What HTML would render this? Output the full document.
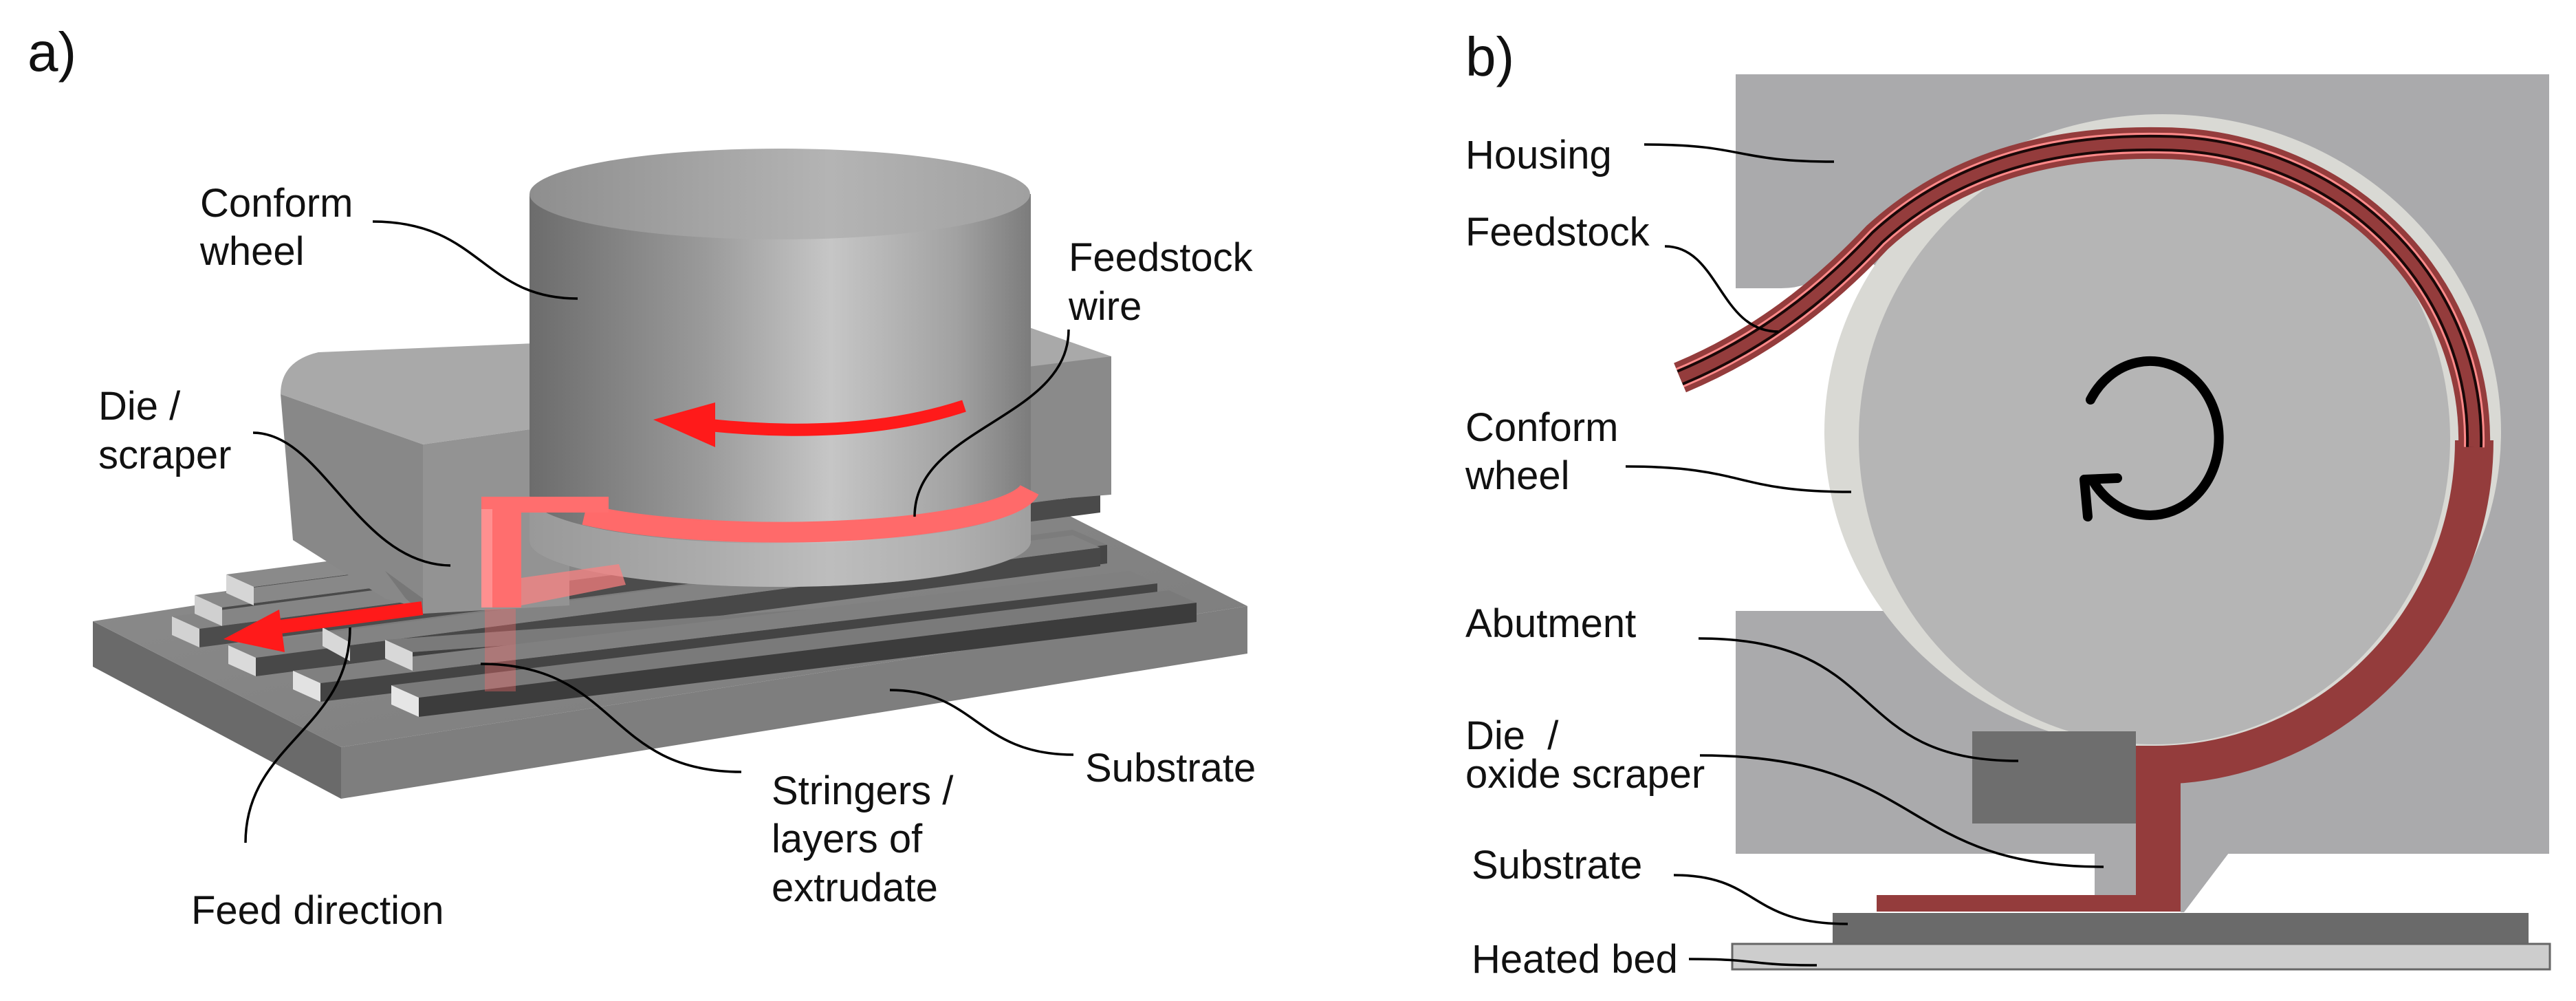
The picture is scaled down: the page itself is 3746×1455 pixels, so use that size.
<!DOCTYPE html>
<html><head><meta charset="utf-8"><style>
html,body{margin:0;padding:0;background:#fff}
svg{display:block}
text{font-family:"Liberation Sans",Arial,sans-serif;fill:#111}
</style></head><body>
<svg width="3746" height="1455" viewBox="0 0 3746 1455" xmlns="http://www.w3.org/2000/svg">
<defs>
<linearGradient id="cyl" x1="0" x2="1" y1="0" y2="0">
<stop offset="0" stop-color="#6c6c6c"/><stop offset="0.35" stop-color="#9a9a9a"/><stop offset="0.6" stop-color="#c6c6c6"/><stop offset="0.85" stop-color="#a2a2a2"/><stop offset="1" stop-color="#7c7c7c"/>
</linearGradient>
<linearGradient id="ctop" x1="0" x2="1" y1="0" y2="0">
<stop offset="0" stop-color="#8e8e8e"/><stop offset="0.6" stop-color="#b4b4b4"/><stop offset="1" stop-color="#a0a0a0"/>
</linearGradient>
<linearGradient id="plt" x1="0" x2="1" y1="0" y2="1">
<stop offset="0" stop-color="#8e8e8e"/><stop offset="1" stop-color="#7a7a7a"/>
</linearGradient>
</defs>

<!-- ============ PANEL A ============ -->
<text x="40" y="103" font-size="80">a)</text>

<!-- substrate plate -->
<polygon points="135,903 496,1086 496,1161 135,969" fill="#6a6a6a"/>
<polygon points="496,1086 1814,881 1814,950 496,1161" fill="#7e7e7e"/>
<polygon points="135,903 1453,698 1814,881 496,1086" fill="url(#plt)"/>

<!-- stringers -->
<g>
<!-- back bars -->
<polygon points="329,835 1500,682 1540,700 369,853" fill="#8a8a8a"/>
<polygon points="369,853 1540,700 1540,727 369,880" fill="#4e4e4e"/>
<polygon points="283,865 1560,700 1600,718 323,883" fill="#888"/>
<polygon points="323,883 1600,718 1600,745 323,910" fill="#4a4a4a"/>
<polygon points="469,912 1560,770 1610,792 509,934" fill="#7c7c7c"/>
<polygon points="509,934 1610,792 1610,819 509,961" fill="#454545"/>
<polygon points="250,896 1450,740 1490,758 290,914" fill="#858585"/>
<polygon points="290,914 1490,758 1490,785 290,941" fill="#4c4c4c"/>
<polygon points="332,938 1560,778 1600,796 372,956" fill="#838383"/>
<polygon points="372,956 1600,796 1600,823 372,983" fill="#484848"/>
<polygon points="560,930 1643,852 1683,870 600,948" fill="#7a7a7a"/>
<polygon points="600,948 1683,870 1683,897 600,975" fill="#404040"/>
<polygon points="426,975 1643,830 1683,848 466,993" fill="#808080"/>
<polygon points="466,993 1683,848 1683,875 466,1020" fill="#444"/>
<polygon points="569,996 1700,858 1740,876 609,1014" fill="#7a7a7a"/>
<polygon points="609,1014 1740,876 1740,904 609,1042" fill="#3c3c3c"/>
<!-- end highlights -->
<polygon points="329,835 369,853 369,880 329,862" fill="#d6d6d6"/>
<polygon points="283,865 323,883 323,910 283,892" fill="#d0d0d0"/>
<polygon points="250,896 290,914 290,941 250,923" fill="#d2d2d2"/>
<polygon points="332,938 372,956 372,983 332,965" fill="#dadada"/>
<polygon points="426,975 466,993 466,1020 426,1002" fill="#e2e2e2"/>
<polygon points="569,996 609,1014 609,1042 569,1024" fill="#e6e6e6"/>
<polygon points="469,912 509,934 509,961 469,939" fill="#d8d8d8"/>
<polygon points="560,930 600,948 600,975 560,957" fill="#d8d8d8"/>
</g>

<!-- housing -->
<polygon points="1479,500 1616,518 1616,719 1479,730" fill="#8a8a8a"/>
<path d="M408 573 Q408 525 463 512 L1480 470 L1616 518 L828 616 L615 646 Z" fill="#a9a9a9"/>
<polygon points="408,573 615,646 615,885 560,870 426,785" fill="#888888"/>
<polygon points="615,646 828,616 828,880 615,892" fill="#939393"/>
<polygon points="560,830 615,870 615,892 590,870" fill="#777"/>

<!-- cylinder -->
<rect x="770" y="282" width="729" height="505" fill="url(#cyl)"/>
<ellipse cx="1134" cy="787" rx="364" ry="66" fill="url(#cyl)"/>
<ellipse cx="1134" cy="282" rx="364" ry="66" fill="url(#ctop)"/>
<path d="M770 720 A364 70 0 0 0 1499 720 L1499 787 A364 66 0 0 1 770 787 Z" fill="#b8b8b8" opacity="0.6"/>

<!-- red wire -->
<path d="M1497 712 A364 68 0 0 1 850 748" fill="none" stroke="#ff6a6a" stroke-width="30"/>
<polygon points="700,722 885,722 885,745 758,745 758,883 700,883" fill="#ff6e6e"/>
<rect x="700" y="740" width="16" height="143" fill="#ff9090"/>
<polygon points="758,840 900,820 910,850 758,880" fill="#ff8080" opacity="0.7"/>
<rect x="705" y="885" width="45" height="120" fill="#ff6a6a" opacity="0.35"/>

<!-- red arrows -->
<path d="M1402 590 Q1250 640 1032 618" fill="none" stroke="#ff1a1a" stroke-width="18"/>
<polygon points="950,610 1040,585 1040,650" fill="#ff1a1a"/>
<path d="M614 884 L400 912" fill="none" stroke="#ff1a1a" stroke-width="20"/>
<polygon points="325,929 406,886 414,948" fill="#ff1a1a"/>

<!-- labels A -->
<g font-size="58">
<text x="291" y="315">Conform</text><text x="291" y="385">wheel</text>
<text x="1554" y="394">Feedstock</text><text x="1554" y="465">wire</text>
<text x="143" y="610">Die /</text><text x="143" y="681">scraper</text>
<text x="278" y="1343">Feed direction</text>
<text x="1122" y="1169">Stringers /</text><text x="1122" y="1239">layers of</text><text x="1122" y="1310">extrudate</text>
<text x="1578" y="1136">Substrate</text>
</g>
<g fill="none" stroke="#000" stroke-width="3.5">
<path d="M542 322 C700 322 700 434 840 434"/>
<path d="M1554 479 C1554 610 1330 620 1330 751"/>
<path d="M368 629 C470 629 520 820 655 822"/>
<path d="M357 1225 C357 1080 509 1060 509 912"/>
<path d="M699 965 C900 965 880 1122 1078 1122"/>
<path d="M1294 1003 C1420 1003 1420 1097 1561 1097"/>
</g>

<!-- ============ PANEL B ============ -->
<text x="2131" y="110" font-size="80">b)</text>

<!-- housing -->
<rect x="2524" y="108" width="1183" height="1133" fill="#aaaaac"/>
<rect x="2524" y="419" width="260" height="469" fill="#fff"/>
<path d="M2590 419 Q2650 419 2700 360 L2760 419 Z" fill="#fff"/>
<rect x="3046" y="1240" width="125" height="62" fill="#aaaaac"/>
<polygon points="3171,1240 3241,1240 3176,1326 3171,1326" fill="#aaaaac"/>

<!-- wheel -->
<ellipse cx="3145" cy="628" rx="492" ry="462" fill="#d9d9d4"/>
<ellipse cx="3133" cy="638" rx="430" ry="444" fill="#b5b5b5"/>

<!-- feedstock band -->
<g fill="none" stroke-linecap="butt">
<path d="M3598 640 A465 472 0 0 1 3135 1112" stroke="#943c3c" stroke-width="56"/>
<path d="M2443 549 C2560 500 2650 430 2730 345 C2850 235 3000 206 3140 208 A458 432 0 0 1 3598 650" stroke="#943c3c" stroke-width="46"/>
<path d="M2443 549 C2560 500 2650 430 2730 345 C2850 235 3000 206 3140 208 A458 432 0 0 1 3598 650" stroke="#ff8a8a" stroke-width="30"/>
<path d="M2443 549 C2560 500 2650 430 2730 345 C2850 235 3000 206 3140 208 A458 432 0 0 1 3598 650" stroke="#1a0808" stroke-width="24"/>
<path d="M2443 549 C2560 500 2650 430 2730 345 C2850 235 3000 206 3140 208 A458 432 0 0 1 3598 650" stroke="#943c3c" stroke-width="16"/>
</g>
<rect x="3106" y="1084" width="65" height="241" fill="#943c3c"/>
<rect x="2729" y="1301" width="442" height="24" fill="#943c3c"/>

<!-- die -->
<rect x="2868" y="1063" width="238" height="134" fill="#6e6e6e"/>

<!-- substrate / bed -->
<rect x="2665" y="1327" width="1012" height="45" fill="#6a6a6a"/>
<rect x="2519" y="1372" width="1189" height="37" fill="#cdcdcd" stroke="#666" stroke-width="3"/>

<!-- rotation arrow -->
<path d="M3040 581 A100 112 0 1 1 3044 700" fill="none" stroke="#000" stroke-width="14" stroke-linecap="round"/>
<path d="M3036 751 L3031 697 L3079 695" fill="none" stroke="#000" stroke-width="14" stroke-linecap="round" stroke-linejoin="round"/>

<!-- labels B -->
<g font-size="58">
<text x="2131" y="245">Housing</text>
<text x="2131" y="357">Feedstock</text>
<text x="2131" y="641">Conform</text><text x="2131" y="711">wheel</text>
<text x="2131" y="926">Abutment</text>
<text x="2131" y="1089">Die&#160;&#160;/</text><text x="2131" y="1145">oxide scraper</text>
<text x="2140" y="1277">Substrate</text>
<text x="2140" y="1414">Heated bed</text>
</g>
<g fill="none" stroke="#000" stroke-width="3.5">
<path d="M2391 210 C2540 210 2520 235 2667 235"/>
<path d="M2421 358 C2500 358 2500 482 2586 482"/>
<path d="M2364 678 C2540 678 2520 715 2692 715"/>
<path d="M2470 928 C2750 928 2680 1106 2935 1106"/>
<path d="M2472 1098 C2800 1098 2760 1260 3059 1260"/>
<path d="M2434 1272 C2560 1272 2540 1343 2687 1343"/>
<path d="M2456 1394 C2560 1394 2540 1403 2642 1403"/>
</g>
</svg>
</body></html>
